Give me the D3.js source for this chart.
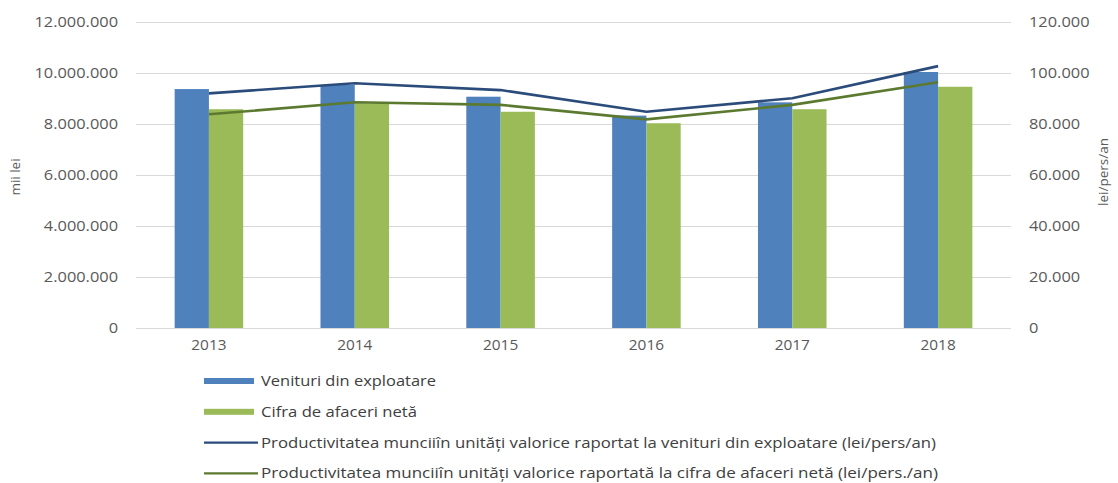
<!DOCTYPE html>
<html lang="ro">
<head>
  <meta charset="utf-8">
  <script src="https://cdn.jsdelivr.net/npm/d3@7/dist/d3.min.js"></script>
  <style>
    body { margin: 0; background: #fff; }
    svg { display: block; font-family: "Open Sans", sans-serif; }
  </style>
</head>
<body>
  <svg id="chart"></svg>
  <script>
    // data
    var years = ['2013', '2014', '2015', '2016', '2017', '2018'];
    var venituri = [9370000, 9530000, 9070000, 8330000, 8850000, 10040000];
    var cifra = [8580000, 8810000, 8480000, 8030000, 8580000, 9460000];
    var prodVenituri = [92000, 96000, 93300, 84800, 90100, 102700];
    var prodCifra = [83800, 88500, 87500, 81800, 87500, 96400];
    var leftTicks = [0, 2000000, 4000000, 6000000, 8000000, 10000000, 12000000];
    var rightTicks = [0, 20000, 40000, 60000, 80000, 100000, 120000];
    var legendItems = [
      { name: 'Venituri din exploatare', type: 'bar', color: '#4f81bd' },
      { name: 'Cifra de afaceri netă', type: 'bar', color: '#9bbb59' },
      { name: 'Productivitatea munciiîn unități valorice raportat la venituri din exploatare (lei/pers/an)', type: 'line', color: '#2b4c7a' },
      { name: 'Productivitatea munciiîn unități valorice raportată la cifra de afaceri netă (lei/pers./an)', type: 'line', color: '#5c7a2f' }
    ];
    // widths of the legend texts as drawn in the original (wide font)
    var legendTextWidth = [175, 156, 675, 677];

    var width = 1118, height = 483;
    var margin = { top: 22, right: 107, bottom: 155, left: 136 };
    var innerW = width - margin.left - margin.right,
      innerH = height - margin.top - margin.bottom;

    var svg = d3.select('#chart').attr('width', width).attr('height', height);
    var g = svg.append('g').attr('transform', 'translate(' + margin.left + ',' + margin.top + ')');

    var fmt = function (v) { return d3.format(',d')(v).replace(/,/g, '.'); };

    // stretch text horizontally, the source chart uses a wider face
    function stretch(sel, f) {
      sel.each(function () {
        var w = this.getComputedTextLength();
        d3.select(this).attr('textLength', w * f).attr('lengthAdjust', 'spacingAndGlyphs');
      });
    }

    var x = d3.scaleBand().domain(years).range([0, innerW]).paddingInner(0.53).paddingOuter(0.265);
    var yL = d3.scaleLinear().domain([0, 12000000]).range([innerH, 0]);
    var yR = d3.scaleLinear().domain([0, 120000]).range([innerH, 0]);

    // gridlines
    g.selectAll('line.grid').data(leftTicks).enter().append('line')
      .attr('class', 'grid')
      .attr('x1', 0).attr('x2', innerW)
      .attr('y1', function (d) { return Math.round(yL(d)) + 0.5; })
      .attr('y2', function (d) { return Math.round(yL(d)) + 0.5; })
      .attr('stroke', '#d9d9d9').attr('stroke-width', 1);

    // bars
    var bw = x.bandwidth() / 2;
    g.selectAll('rect.ven').data(venituri).enter().append('rect')
      .attr('x', function (d, i) { return x(years[i]); })
      .attr('y', function (d) { return yL(d); })
      .attr('width', bw)
      .attr('height', function (d) { return innerH - yL(d); })
      .attr('fill', legendItems[0].color);
    g.selectAll('rect.cif').data(cifra).enter().append('rect')
      .attr('x', function (d, i) { return x(years[i]) + bw; })
      .attr('y', function (d) { return yL(d); })
      .attr('width', bw)
      .attr('height', function (d) { return innerH - yL(d); })
      .attr('fill', legendItems[1].color);

    // lines on right axis
    var cx = function (d, i) { return x(years[i]) + x.bandwidth() / 2; };
    var line = d3.line().x(cx).y(function (d) { return yR(d); });
    g.append('path').datum(prodVenituri).attr('d', line)
      .attr('fill', 'none').attr('stroke', legendItems[2].color).attr('stroke-width', 2.6).attr('stroke-linejoin', 'round');
    g.append('path').datum(prodCifra).attr('d', line)
      .attr('fill', 'none').attr('stroke', legendItems[3].color).attr('stroke-width', 2.6).attr('stroke-linejoin', 'round');

    // axes
    var axL = g.append('g').call(d3.axisLeft(yL).tickValues(leftTicks).tickFormat(fmt).tickSize(0).tickPadding(18));
    var axR = g.append('g').attr('transform', 'translate(' + innerW + ',0)')
      .call(d3.axisRight(yR).tickValues(rightTicks).tickFormat(fmt).tickSize(0).tickPadding(18));
    var axX = g.append('g').attr('transform', 'translate(0,' + innerH + ')')
      .call(d3.axisBottom(x).tickSize(0).tickPadding(12));
    [axL, axR, axX].forEach(function (a) {
      a.select('.domain').remove();
      a.selectAll('text').attr('fill', '#595959').style('font-size', '14px').style('font-family', '"Open Sans", sans-serif');
    });
    stretch(axL.selectAll('text'), 1.17);
    stretch(axR.selectAll('text'), 1.17);
    stretch(axX.selectAll('text'), 1.1);

    // axis titles
    svg.append('text').attr('transform', 'translate(20,' + 177 + ') rotate(-90)')
      .attr('text-anchor', 'middle').attr('fill', '#595959').style('font-size', '13.5px').text('mii lei');
    svg.append('text').attr('transform', 'translate(1108,' + 172 + ') rotate(-90)')
      .attr('text-anchor', 'middle').attr('fill', '#595959').style('font-size', '13.5px').text('lei/pers/an');

    // legend
    var lg = svg.append('g').attr('transform', 'translate(204,381)');
    var rows = lg.selectAll('g').data(legendItems).enter().append('g')
      .attr('transform', function (d, i) { return 'translate(0,' + (i * 30.8) + ')'; });
    rows.each(function (d) {
      var r = d3.select(this);
      if (d.type === 'bar') {
        r.append('rect').attr('x', 0).attr('y', -3).attr('width', 50).attr('height', 6).attr('fill', d.color);
      } else {
        r.append('line').attr('x1', 0).attr('x2', 54).attr('y1', 0).attr('y2', 0)
          .attr('stroke', d.color).attr('stroke-width', 2.4);
      }
    });
    rows.append('text').attr('x', 57).attr('dy', '0.35em')
      .attr('fill', '#404040').style('font-size', '14.5px')
      .attr('textLength', function (d, i) { return legendTextWidth[i]; })
      .attr('lengthAdjust', 'spacingAndGlyphs')
      .text(function (d) { return d.name; });
  </script>
</body>
</html>
